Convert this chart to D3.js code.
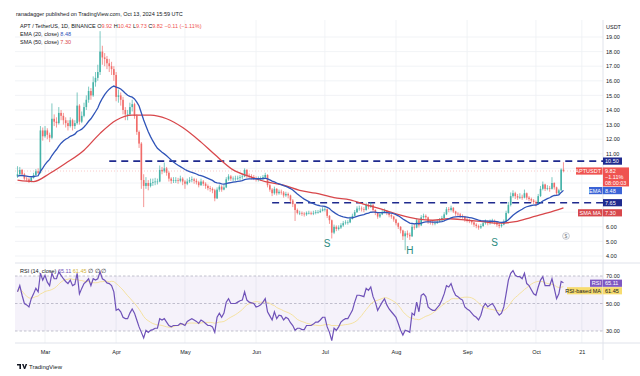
<!DOCTYPE html>
<html>
<head>
<meta charset="utf-8">
<script src="https://cdn.jsdelivr.net/npm/d3@7"></script>
<style>
html, body { margin: 0; padding: 0; background: #fff; }
svg { display: block; font-family: "Liberation Sans", Arial, sans-serif; }
</style>
</head>
<body>
<svg id="chart" width="640" height="376"></svg>
<script>
// APT/USDT daily, Feb 18 -> Oct 13 2024 (open of each bar = previous close)
const startDate = "2024-02-18";
const firstOpen = 9.45;
const closes = [
  9.6, 9.9, 9.6, 9.3, 9.25, 9.1, 9.35, 9.55, 9.8, 9.7,
  12.6, 12.2, 12.6, 12.3, 12.1, 13.4, 13.2, 13.1, 13.8, 13.6,
  13.3, 13.1, 12.9, 13.3, 12.9, 13.1, 14.3, 13.2, 13.6, 14.2,
  14.7, 15.3, 15.0, 15.9, 16.2, 16.6, 18.0, 17.6, 17.5, 17.2,
  17.0, 16.8, 16.4, 14.9, 15.0, 14.7, 14.0, 13.7, 13.7, 14.2,
  14.4, 13.6, 12.5, 11.7, 9.2, 8.8, 9.0, 8.8, 9.0, 9.05,
  9.1, 9.1, 9.9, 9.8, 10.0, 9.7, 9.3, 9.15, 9.2, 9.2,
  9.15, 9.3, 9.1, 8.95, 9.1, 9.2, 9.25, 9.15, 9.05, 8.85,
  9.1, 8.95, 8.8, 8.65, 8.6, 8.5, 7.95, 8.55, 8.75, 8.55,
  8.7, 9.25, 9.45, 9.3, 9.3, 9.3, 9.35, 9.4, 9.45, 9.9,
  9.5, 9.45, 9.4, 9.35, 9.25, 9.3, 9.3, 9.4, 9.55, 8.85,
  8.55, 8.3, 8.6, 8.3, 8.4, 8.35, 8.15, 8.25, 8.15, 7.8,
  7.55, 7.15, 6.95, 6.95, 6.9, 6.85, 6.95, 6.95, 6.9, 6.95,
  7.0, 7.0, 7.1, 7.2, 7.2, 6.75, 6.45, 5.6, 6.0, 5.85,
  5.95, 6.1, 6.25, 6.3, 6.3, 6.55, 6.75, 7.0, 7.25, 7.25,
  7.2, 7.15, 7.5, 7.35, 7.5, 7.15, 6.95, 6.7, 6.85, 7.0,
  7.1, 6.95, 6.8, 6.7, 6.5, 6.25, 6.0, 5.75, 5.35, 5.55,
  5.45, 5.35, 6.0, 5.95, 6.45, 6.1, 6.65, 6.75, 6.65, 6.35,
  6.3, 6.25, 6.25, 6.35, 6.45, 6.6, 6.85, 7.2, 7.15, 7.3,
  7.05, 6.9, 6.85, 6.75, 6.7, 6.5, 6.45, 6.4, 6.3, 6.15,
  6.05, 5.95, 6.05, 6.25, 6.35, 6.25, 6.35, 6.4, 6.3, 6.15,
  6.05, 6.15, 6.35, 6.95, 7.5, 8.1, 8.3, 8.1, 8.0, 8.05,
  8.0, 8.3, 8.0, 7.9, 7.8, 7.7, 7.6, 8.1, 8.6, 8.9,
  8.6, 8.65, 8.6, 9.0, 8.7, 8.3, 8.5, 9.92, 9.82
];
const highs = [
  10.15, 10.1, 9.95, 9.7, 9.45, 9.35, 9.45, 9.7, 9.95, 10.0,
  12.9, 12.8, 12.9, 12.75, 12.45, 14.45, 13.7, 13.5, 14.2, 14.0,
  13.8, 13.5, 13.3, 13.5, 13.4, 13.3, 15.2, 14.4, 13.9, 14.5,
  15.0, 15.6, 15.5, 16.3, 16.6, 17.1, 19.4, 18.4, 17.9, 17.7,
  17.5, 17.3, 17.0, 16.6, 15.4, 15.2, 14.9, 14.2, 14.0, 14.5,
  14.7, 14.5, 13.7, 12.6, 11.8, 9.6, 9.4, 9.2, 9.3, 9.3,
  9.35, 9.3, 10.2, 10.1, 10.4, 10.1, 9.8, 9.4, 9.4, 9.4,
  9.35, 9.5, 9.4, 9.2, 9.3, 9.4, 9.45, 9.35, 9.3, 9.15,
  9.3, 9.2, 9.05, 8.9, 8.8, 8.7, 8.6, 8.7, 8.9, 8.85,
  8.9, 9.4, 9.6, 9.55, 9.45, 9.5, 9.5, 9.55, 9.6, 10.0,
  9.95, 9.65, 9.6, 9.55, 9.45, 9.45, 9.45, 9.55, 9.7, 9.6,
  8.95, 8.65, 8.75, 8.65, 8.55, 8.55, 8.45, 8.4, 8.35, 8.2,
  7.9, 7.6, 7.25, 7.1, 7.05, 7.0, 7.05, 7.1, 7.05, 7.1,
  7.15, 7.15, 7.25, 7.35, 7.35, 7.25, 6.8, 6.5, 6.15, 6.1,
  6.1, 6.25, 6.4, 6.45, 6.45, 6.7, 6.9, 7.15, 7.4, 7.45,
  7.4, 7.35, 7.65, 7.6, 7.7, 7.55, 7.2, 7.0, 7.0, 7.15,
  7.25, 7.15, 7.0, 6.9, 6.75, 6.55, 6.3, 6.05, 5.8, 5.7,
  5.75, 5.6, 6.15, 6.2, 6.6, 6.5, 6.8, 6.9, 6.85, 6.7,
  6.45, 6.4, 6.4, 6.5, 6.6, 6.75, 7.0, 7.35, 7.35, 7.45,
  7.35, 7.1, 7.0, 6.95, 6.85, 6.75, 6.6, 6.55, 6.45, 6.35,
  6.25, 6.15, 6.2, 6.4, 6.5, 6.45, 6.5, 6.55, 6.5, 6.35,
  6.25, 6.3, 6.5, 7.1, 7.7, 8.35, 8.5, 8.4, 8.25, 8.3,
  8.2, 8.55, 8.35, 8.1, 8.0, 7.9, 7.8, 8.25, 8.8, 9.1,
  8.95, 8.85, 8.8, 9.4, 9.05, 8.75, 8.6, 10.0, 10.42
];
const lows = [
  9.35, 9.5, 9.5, 9.2, 9.1, 9.0, 9.05, 9.3, 9.5, 9.6,
  9.65, 11.9, 12.1, 12.0, 11.8, 12.0, 12.9, 12.8, 13.0, 13.3,
  13.0, 12.8, 12.6, 12.8, 12.6, 12.7, 13.0, 13.0, 13.1, 13.5,
  14.0, 14.5, 14.7, 14.9, 15.6, 16.0, 16.4, 17.1, 17.0, 16.8,
  16.6, 16.4, 16.0, 14.6, 14.5, 14.3, 13.7, 13.3, 13.3, 13.6,
  13.9, 13.4, 12.3, 11.4, 8.6, 7.35, 8.6, 8.5, 8.7, 8.8,
  8.85, 8.9, 9.05, 9.6, 9.7, 9.5, 9.1, 8.95, 9.0, 9.0,
  8.95, 9.05, 8.85, 8.6, 8.85, 9.0, 9.05, 8.95, 8.9, 8.7,
  8.8, 8.8, 8.6, 8.5, 8.4, 8.3, 7.75, 7.9, 8.4, 8.4,
  8.5, 8.65, 9.15, 9.15, 9.1, 9.15, 9.2, 9.2, 9.25, 9.4,
  9.35, 9.3, 9.25, 9.2, 9.1, 9.1, 9.15, 9.2, 9.3, 8.7,
  8.4, 8.1, 8.2, 8.15, 8.2, 8.2, 8.0, 8.05, 7.95, 7.6,
  7.35, 6.4, 6.85, 6.8, 6.75, 6.7, 6.75, 6.85, 6.8, 6.8,
  6.85, 6.9, 6.95, 7.05, 7.05, 6.6, 6.2, 5.2, 5.5, 5.7,
  5.75, 5.85, 6.0, 6.15, 6.15, 6.25, 6.5, 6.7, 6.95, 7.1,
  7.05, 7.0, 7.1, 7.2, 7.3, 7.0, 6.8, 6.55, 6.6, 6.8,
  6.95, 6.8, 6.65, 6.55, 6.35, 6.1, 5.85, 5.55, 5.1, 4.4,
  5.25, 5.1, 5.3, 5.8, 5.9, 5.95, 6.05, 6.55, 6.5, 6.2,
  6.15, 6.1, 6.1, 6.2, 6.3, 6.4, 6.55, 6.8, 7.0, 7.05,
  6.95, 6.75, 6.7, 6.6, 6.55, 6.35, 6.3, 6.25, 6.15, 6.0,
  5.9, 5.8, 5.85, 6.0, 6.15, 6.1, 6.15, 6.25, 6.15, 6.0,
  5.9, 5.95, 6.1, 6.3, 6.9, 7.4, 8.0, 7.9, 7.85, 7.9,
  7.85, 7.95, 7.85, 7.75, 7.65, 7.55, 7.4, 7.55, 8.05, 8.5,
  8.45, 8.5, 8.4, 8.55, 8.55, 8.15, 8.2, 8.45, 9.73
];

// EMA(20) seeded with the value at the first bar; SMA(50)
const emaSeed = 9.45;
const smaIdx = [0, 7, 14, 21, 29, 36, 43, 50, 58, 65, 72, 80, 86, 94, 101, 108, 116,
  123, 130, 138, 145, 152, 160, 167, 174, 181, 188, 196, 203, 210, 217, 224, 231, 238];
const smaVal = [9.2, 9.1, 9.65, 10.35, 11.25, 12.4, 13.3, 13.65, 13.65, 13.4, 12.8, 11.8,
  10.95, 9.9, 9.45, 9.1, 8.85, 8.5, 8.3, 8.0, 7.85, 7.5, 7.15, 6.8, 6.55, 6.45, 6.55,
  6.45, 6.35, 6.25, 6.35, 6.65, 6.95, 7.3];

const rsi = [
  58.5, 63, 56, 50, 49, 47.5, 53.5, 57, 61, 58.5,
  72, 67, 70.5, 65.5, 63, 72, 68, 68, 73, 70.5,
  68, 66, 64.5, 67, 63, 64, 72, 57, 61, 64.5,
  66, 68, 63, 68, 67, 68, 73, 68, 67, 65,
  64.5, 63, 58.5, 45, 46, 44, 40, 39, 39, 43,
  46, 43, 38, 33, 29, 25, 30.5, 29, 30.5, 31,
  32, 32, 39, 38, 39, 36.5, 34, 33, 34, 34,
  34, 35.5, 35, 34, 37, 38, 39, 38, 37, 35.5,
  38, 37, 35.5, 34, 34, 33, 29, 40, 43, 40,
  43, 51, 53.5, 50, 50, 50, 51, 52, 52.5, 58.5,
  52.5, 51, 50.5, 50, 47.5, 48, 49, 51, 53.5, 44,
  41, 38, 44, 39, 41.5, 41, 38, 40, 39, 36,
  34, 30.5, 32, 32, 31, 31, 34, 34, 34, 35,
  36.5, 36.5, 38, 40, 40, 33, 29, 23, 32, 30.5,
  33, 36.5, 38, 39, 39, 42, 45, 51, 56, 56,
  55.5, 55, 61, 59.5, 62, 55, 51, 45, 48, 51,
  53.5, 49, 46, 44, 42, 40, 35.5, 30.5, 27, 30.5,
  30, 29, 43, 41.5, 51, 44, 56, 57, 55, 47.5,
  46, 45, 45, 47, 49, 52.5, 57, 63, 62, 64.5,
  59.5, 56, 55, 53.5, 52.5, 47.5, 46, 45, 43, 41,
  40, 38, 41.5, 47.5, 50, 47.5, 49, 50, 47.5, 44,
  41.5, 43, 47.5, 57, 67, 72, 74, 70.5, 69.5, 69.5,
  68, 72, 64.5, 63, 60, 57, 56, 62, 67, 69.5,
  63, 63, 63, 68, 61, 53.5, 57, 66, 65.11
];

const levels = [10.5, 7.65];
const levelStart = ["2024-03-29", "2024-06-08"];
const patternText = ["S", "H", "S"];
const patternDate = ["2024-07-02", "2024-08-07", "2024-09-13"];
const patternPrice = [4.8, 4.33, 4.88];
const priceTicks = [19, 18, 17, 16, 15, 14, 13, 12, 11, 10, 9, 8, 7, 6, 5, 4];
const priceLabels = [19, 18, 17, 16, 15, 14, 13, 12, 11, 6, 5, 4];
const timeTicks = ["2024-03-01", "2024-04-01", "2024-05-01", "2024-06-01", "2024-07-01",
  "2024-08-01", "2024-09-01", "2024-10-01", "2024-10-21"];
const timeNames = ["Mar", "Apr", "May", "Jun", "Jul", "Aug", "Sep", "Oct", "21"];
const rsiLevels = [70, 50, 30];

const GREEN = "#26a69a", RED = "#ef5350", EMA_C = "#2f54b8", SMA_C = "#d8474b",
  LVL = "#1f2a8e", RSI_C = "#6f52b8", RSI_MA_C = "#f4dc84", TXT = "#131722";

const parse = d3.utcParse("%Y-%m-%d");
const t0 = parse(startDate);
const day = (i) => d3.utcDay.offset(t0, i);

const svg = d3.select("#chart");
const L = 15, R = 603, mainTop = 20, mainBot = 263, rsiBot = 343, axBot = 360;

const x = d3.scaleUtc().domain([t0, parse("2024-10-21")]).range([17.5, 581.8]);
const y = d3.scaleLinear().domain([4, 19]).range([256, 37]);
const yr = d3.scaleLinear().domain([30, 70]).range([331, 276]);

const bars = closes.map((c, i) => ({
  d: day(i), o: i ? closes[i - 1] : firstOpen, h: highs[i], l: lows[i], c
}));

const k = 2 / 21;
let prev = emaSeed;
const ema = closes.map((c) => (prev = prev + k * (c - prev)));
const rsiMa = rsi.map((v, i) => d3.mean(rsi.slice(Math.max(0, i - 13), i + 1)));

// grid
const grid = svg.append("g").attr("stroke", "#eef0f4").attr("stroke-width", 0.8);
grid.selectAll(".gx").data(timeTicks).join("line")
  .attr("x1", (d) => x(parse(d))).attr("x2", (d) => x(parse(d)))
  .attr("y1", mainTop).attr("y2", rsiBot);
grid.selectAll(".gy").data(priceTicks).join("line")
  .attr("x1", L).attr("x2", R).attr("y1", (d) => y(d)).attr("y2", (d) => y(d));

// pane borders
svg.append("line").attr("x1", L).attr("x2", 640).attr("y1", mainBot).attr("y2", mainBot)
  .attr("stroke", "#e0e3eb").attr("stroke-width", 1);
svg.append("line").attr("x1", L).attr("x2", 640).attr("y1", rsiBot).attr("y2", rsiBot)
  .attr("stroke", "#e0e3eb").attr("stroke-width", 1);
svg.append("line").attr("x1", R).attr("x2", R).attr("y1", mainTop).attr("y2", axBot)
  .attr("stroke", "#e0e3eb").attr("stroke-width", 1);

// header & legend
svg.append("text").attr("x", 16).attr("y", 16).attr("font-size", 5.5).attr("fill", TXT)
  .text("ranadagger published on TradingView.com, Oct 13, 2024 15:59 UTC");
const lg = svg.append("text").attr("x", 20).attr("y", 28).attr("font-size", 5.5).attr("fill", TXT);
lg.append("tspan").text("APT / TetherUS, 1D, BINANCE  O");
lg.append("tspan").attr("fill", RED).text("9.92");
lg.append("tspan").text(" H");
lg.append("tspan").attr("fill", RED).text("10.42");
lg.append("tspan").text(" L");
lg.append("tspan").attr("fill", RED).text("9.73");
lg.append("tspan").text(" C");
lg.append("tspan").attr("fill", RED).text("9.82 \u22120.11 (\u22121.11%)");
const l2 = svg.append("text").attr("x", 20).attr("y", 36).attr("font-size", 5.5).attr("fill", TXT);
l2.append("tspan").text("EMA (20, close) ");
l2.append("tspan").attr("fill", EMA_C).text("8.48");
const l3 = svg.append("text").attr("x", 20).attr("y", 44).attr("font-size", 5.5).attr("fill", TXT);
l3.append("tspan").text("SMA (50, close) ");
l3.append("tspan").attr("fill", SMA_C).text("7.30");

// last price line
svg.append("line").attr("x1", L).attr("x2", R).attr("y1", y(9.82)).attr("y2", y(9.82))
  .attr("stroke", RED).attr("stroke-width", 0.6).attr("stroke-dasharray", "1,2").attr("opacity", 0.5);

// level lines
svg.append("g").selectAll("line").data(levels).join("line")
  .attr("x1", (d, i) => x(parse(levelStart[i]))).attr("x2", R)
  .attr("y1", (d) => y(d)).attr("y2", (d) => y(d))
  .attr("stroke", LVL).attr("stroke-width", 1.6).attr("stroke-dasharray", "7,5");

// candles
const cg = svg.append("g").attr("opacity", 0.85);
cg.selectAll("line").data(bars).join("line")
  .attr("x1", (d) => x(d.d)).attr("x2", (d) => x(d.d))
  .attr("y1", (d) => y(d.h)).attr("y2", (d) => y(d.l))
  .attr("stroke", (d) => (d.c >= d.o ? GREEN : RED)).attr("stroke-width", 0.7);
cg.selectAll("rect").data(bars).join("rect")
  .attr("x", (d) => x(d.d) - 0.8).attr("width", 1.6)
  .attr("y", (d) => y(Math.max(d.o, d.c)))
  .attr("height", (d) => Math.max(0.6, Math.abs(y(d.o) - y(d.c))))
  .attr("fill", (d) => (d.c >= d.o ? GREEN : RED));

// moving averages
svg.append("path")
  .datum(smaIdx.map((i, j) => ({ d: day(i), v: smaVal[j] })))
  .attr("d", d3.line().x((d) => x(d.d)).y((d) => y(d.v)).curve(d3.curveMonotoneX))
  .attr("fill", "none").attr("stroke", SMA_C).attr("stroke-width", 1.3);
svg.append("path")
  .datum(ema.map((v, i) => ({ d: day(i), v })))
  .attr("d", d3.line().x((d) => x(d.d)).y((d) => y(d.v))).attr("fill", "none")
  .attr("stroke", EMA_C).attr("stroke-width", 1.3);

// pattern labels
svg.append("g").selectAll("text").data(patternText).join("text")
  .attr("x", (d, i) => x(parse(patternDate[i]))).attr("y", (d, i) => y(patternPrice[i]))
  .attr("text-anchor", "middle").attr("dominant-baseline", "middle")
  .attr("font-size", 10).attr("fill", "#2b8a7e").text((d) => d);

// events marker
svg.append("circle").attr("cx", 566).attr("cy", 236).attr("r", 3.4)
  .attr("fill", "#fff").attr("stroke", "#b2b5be").attr("stroke-width", 0.7);
svg.append("text").attr("x", 566).attr("y", 238).attr("text-anchor", "middle")
  .attr("font-size", 5).attr("fill", "#787b86").text("$");

// price axis
const ya = svg.append("g").attr("transform", `translate(${R + 2},0)`)
  .call(d3.axisRight(y).tickValues(priceLabels).tickFormat(d3.format(".2f")).tickSize(0));
ya.select(".domain").remove();
ya.selectAll("text").attr("font-size", 5.5).attr("fill", TXT).attr("x", 1);
svg.append("text").attr("x", 606).attr("y", 29).attr("font-size", 5.5).attr("fill", TXT).text("USDT");

// axis value tags
function tag(yc, val, color, txtColor, name, nameX) {
  svg.append("rect").attr("x", R).attr("y", yc - 3.6).attr("width", 19).attr("height", 7.2)
    .attr("fill", color);
  svg.append("text").attr("x", R + 2).attr("y", yc + 2).attr("font-size", 5.5)
    .attr("fill", txtColor).text(val);
  if (name) {
    svg.append("rect").attr("x", nameX).attr("y", yc - 3.6).attr("width", R - nameX - 0.5)
      .attr("height", 7.2).attr("fill", color);
    svg.append("text").attr("x", R - 2).attr("y", yc + 2).attr("text-anchor", "end")
      .attr("font-size", 5.5).attr("fill", txtColor).text(name);
  }
}
tag(y(10.5), "10.50", LVL, "#fff");
tag(y(7.65), "7.65", LVL, "#fff");
tag(y(7.3) + 5, "7.30", SMA_C, "#fff", "SMA MA", 578);
tag(y(8.48), "8.48", "#3a63d6", "#fff", "EMA", 589);
// last price tag (3 lines)
svg.append("rect").attr("x", R).attr("y", y(9.82) - 3.6).attr("width", 26).attr("height", 19)
  .attr("fill", RED);
svg.append("rect").attr("x", 576).attr("y", y(9.82) - 3.6).attr("width", 26.5).attr("height", 7.2)
  .attr("fill", RED);
svg.append("text").attr("x", R - 2).attr("y", y(9.82) + 2).attr("text-anchor", "end")
  .attr("font-size", 5.5).attr("fill", "#fff").text("APTUSDT");
["9.82", "\u22121.11%", "08:00:03"].forEach((t, i) => {
  svg.append("text").attr("x", R + 2).attr("y", y(9.82) + 2 + i * 6)
    .attr("font-size", 5.5).attr("fill", "#fff").text(t);
});

// RSI pane
svg.append("rect").attr("x", L).attr("width", R - L).attr("y", yr(70))
  .attr("height", yr(30) - yr(70)).attr("fill", "rgba(126,87,194,0.08)");
svg.append("g").selectAll("line").data(rsiLevels).join("line")
  .attr("x1", L).attr("x2", R).attr("y1", (d) => yr(d)).attr("y2", (d) => yr(d))
  .attr("stroke", "#9c9aae").attr("stroke-width", 0.6).attr("stroke-dasharray", "2.5,2");
svg.append("path").datum(rsiMa)
  .attr("d", d3.line().x((d, i) => x(day(i))).y((d) => yr(d)))
  .attr("fill", "none").attr("stroke", RSI_MA_C).attr("stroke-width", 1).attr("opacity", 0.75);
svg.append("path").datum(rsi)
  .attr("d", d3.line().x((d, i) => x(day(i))).y((d) => yr(d)))
  .attr("fill", "none").attr("stroke", RSI_C).attr("stroke-width", 1.2);

const ra = svg.append("g").attr("transform", `translate(${R + 2},0)`)
  .call(d3.axisRight(yr).tickValues(rsiLevels).tickFormat(d3.format(".2f")).tickSize(0));
ra.select(".domain").remove();
ra.selectAll("text").attr("font-size", 5.5).attr("fill", TXT).attr("x", 1);
tag(yr(65.11) + 0.5, "65.11", "#7e57c2", "#fff", "RSI", 590);
tag(yr(61.45) + 3, "61.45", "#f7dc6f", TXT, "RSI-based MA", 567);

const rl = svg.append("text").attr("x", 20).attr("y", 273).attr("font-size", 5.5).attr("fill", TXT);
rl.append("tspan").text("RSI (14, close) ");
rl.append("tspan").attr("fill", RSI_C).text("65.11 ");
rl.append("tspan").attr("fill", "#d4b43a").text("61.45 ");
rl.append("tspan").text(" \u2205  \u2205  \u2205");

// time axis
const xa = svg.append("g").attr("transform", `translate(0,${rsiBot + 4})`)
  .call(d3.axisBottom(x).tickValues(timeTicks.map(parse))
    .tickFormat((d, i) => timeNames[i]).tickSize(0));
xa.select(".domain").remove();
xa.selectAll("text").attr("font-size", 5.5).attr("fill", TXT);

// footer logo
svg.append("path").attr("d", "M17 364h4v5h-1.6v-3.4H17z M22 364h1.6l1 3 1-3h1.6l-2 5h-1.2z")
  .attr("fill", TXT);
svg.append("text").attr("x", 29).attr("y", 369).attr("font-size", 6).attr("fill", TXT)
  .text("TradingView");
</script>
</body>
</html>
